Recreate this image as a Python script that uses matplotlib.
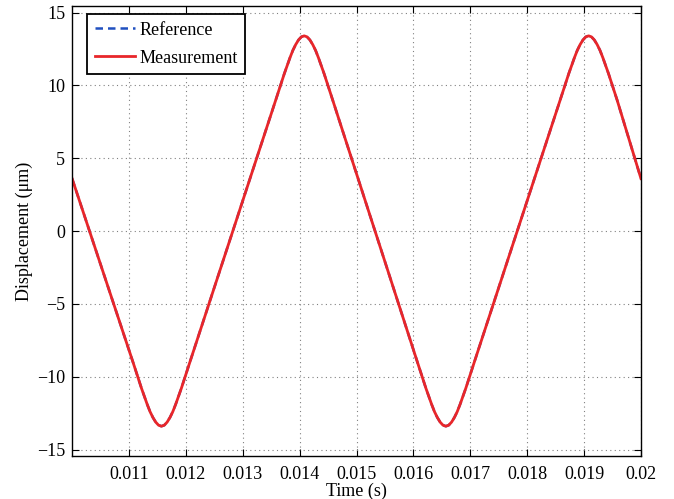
import matplotlib
matplotlib.use("Agg")
import matplotlib.pyplot as plt
from matplotlib.ticker import FixedLocator, FixedFormatter

# Data (times in s, displacement in um)
time_s = [0.01000,
          0.01107, 0.01117, 0.01122, 0.01127, 0.01132, 0.01137, 0.01142, 0.01147, 0.01152,
          0.01157,
          0.01162, 0.01167, 0.01172, 0.01177, 0.01182, 0.01187, 0.01192, 0.01197, 0.01207,
          0.01358, 0.01368, 0.01373, 0.01378, 0.01383, 0.01388, 0.01393, 0.01398, 0.01403,
          0.01408,
          0.01413, 0.01418, 0.01423, 0.01428, 0.01433, 0.01438, 0.01443, 0.01448, 0.01458,
          0.01607, 0.01617, 0.01622, 0.01627, 0.01632, 0.01637, 0.01642, 0.01647, 0.01652,
          0.01657,
          0.01662, 0.01667, 0.01672, 0.01677, 0.01682, 0.01687, 0.01692, 0.01697, 0.01707,
          0.01858, 0.01868, 0.01873, 0.01878, 0.01883, 0.01888, 0.01893, 0.01898, 0.01903,
          0.01908,
          0.01913, 0.01918, 0.01923, 0.01928, 0.01933, 0.01938, 0.01943, 0.01948, 0.01958,
          0.02000]
reference = [3.6,
             -9.0, -10.2, -10.8, -11.35, -11.9, -12.4, -12.8, -13.12, -13.33,
             -13.4,
             -13.33, -13.12, -12.8, -12.4, -11.9, -11.35, -10.8, -10.2, -9.0,
             9.0, 10.2, 10.8, 11.35, 11.9, 12.4, 12.8, 13.12, 13.33,
             13.4,
             13.33, 13.12, 12.8, 12.4, 11.9, 11.35, 10.8, 10.2, 9.0,
             -9.0, -10.2, -10.8, -11.35, -11.9, -12.4, -12.8, -13.12, -13.33,
             -13.4,
             -13.33, -13.12, -12.8, -12.4, -11.9, -11.35, -10.8, -10.2, -9.0,
             9.0, 10.2, 10.8, 11.35, 11.9, 12.4, 12.8, 13.12, 13.33,
             13.4,
             13.33, 13.12, 12.8, 12.4, 11.9, 11.35, 10.8, 10.2, 9.0,
             3.6]
measurement = [3.6,
               -9.0, -10.2, -10.8, -11.35, -11.9, -12.4, -12.8, -13.12, -13.33,
               -13.4,
               -13.33, -13.12, -12.8, -12.4, -11.9, -11.35, -10.8, -10.2, -9.0,
               9.0, 10.2, 10.8, 11.35, 11.9, 12.4, 12.8, 13.12, 13.33,
               13.4,
               13.33, 13.12, 12.8, 12.4, 11.9, 11.35, 10.8, 10.2, 9.0,
               -9.0, -10.2, -10.8, -11.35, -11.9, -12.4, -12.8, -13.12, -13.33,
               -13.4,
               -13.33, -13.12, -12.8, -12.4, -11.9, -11.35, -10.8, -10.2, -9.0,
               9.0, 10.2, 10.8, 11.35, 11.9, 12.4, 12.8, 13.12, 13.33,
               13.4,
               13.33, 13.12, 12.8, 12.4, 11.9, 11.35, 10.8, 10.2, 9.0,
               3.6]

x_ticks = [0.011, 0.012, 0.013, 0.014, 0.015, 0.016, 0.017, 0.018, 0.019, 0.02]
x_tick_labels = ["0.011", "0.012", "0.013", "0.014", "0.015", "0.016",
                 "0.017", "0.018", "0.019", "0.02"]
y_ticks = [-15, -10, -5, 0, 5, 10, 15]
y_tick_labels = ["\u221215", "\u221210", "\u22125", "0", "5", "10", "15"]

plt.rcParams['font.family'] = ['Liberation Serif', 'DejaVu Serif']
plt.rcParams['font.size'] = 13

fig = plt.figure(figsize=(6.74, 4.99), dpi=100)
ax = fig.add_axes([0.107, 0.086, 0.844, 0.902])

ax.plot(time_s, reference, color='#2050c0', lw=1.8, ls=(0, (3, 2)), label='Reference')
ax.plot(time_s, measurement, color='#e8262a', lw=2.0, label='Measurement')

ax.set_xlim(0.01, 0.02)
ax.set_ylim(-15.45, 15.45)
ax.xaxis.set_major_locator(FixedLocator(x_ticks))
ax.xaxis.set_major_formatter(FixedFormatter(x_tick_labels))
ax.yaxis.set_major_locator(FixedLocator(y_ticks))
ax.yaxis.set_major_formatter(FixedFormatter(y_tick_labels))

ax.tick_params(direction='in', top=True, right=True, length=5, width=0.8,
               labelsize=13, pad=5)
ax.tick_params(axis='x', pad=7)
ax.grid(True, color='#808080', ls=(0, (1, 3)), lw=0.8)
for s in ax.spines.values():
    s.set_linewidth(1.0)

ax.set_xlabel('Time (s)', fontsize=13, labelpad=0)
ax.set_ylabel('Displacement (\u03bcm)', fontsize=13, labelpad=3)

leg = ax.legend(loc='upper left', bbox_to_anchor=(0.027, 0.982), fancybox=False,
                edgecolor='black', framealpha=1, fontsize=13,
                handlelength=2.2, handletextpad=0.25, borderpad=0.42,
                labelspacing=0.6, borderaxespad=0)
leg.get_frame().set_linewidth(1.3)

fig.savefig('out.png', dpi=100)
